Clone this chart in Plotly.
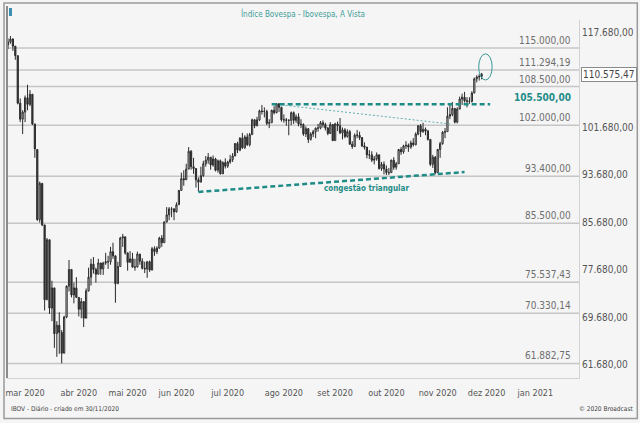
import plotly.graph_objects as go

# ---------------- data (Ibovespa daily, values in thousands of points) ----------------
month_labels = ["mar 2020", "abr 2020", "mai 2020", "jun 2020", "jul 2020", "ago 2020",
                "set 2020", "out 2020", "nov 2020", "dez 2020", "jan 2021"]
month_start_idx = [7, 29, 49, 69, 90, 113, 134, 155, 176, 196, 216]

open_k = [115.5,116.0,116.5,115.3,113.7,105.7,103.0,104.2,106.6,105.5,
          107.2,102.2,97.9,86.1,92.2,85.2,72.6,82.7,71.2,74.6,
          66.9,68.3,67.1,63.6,69.7,74.9,77.7,73.4,74.6,73.0,
          71.0,72.3,69.5,74.1,76.4,78.6,77.7,76.9,78.8,77.8,
          78.8,79.0,79.0,80.7,80.0,75.3,78.2,83.0,83.2,80.5,
          78.9,79.5,78.1,78.1,80.3,79.1,77.9,77.8,79.0,77.6,
          81.2,80.7,81.3,83.0,82.2,85.7,86.9,87.9,87.9,87.4,
          88.6,91.0,93.0,92.8,94.6,97.6,95.0,94.7,92.8,92.4,
          93.5,95.5,96.1,96.6,95.3,96.3,94.4,96.0,93.8,95.7,
          95.1,95.8,96.2,96.8,98.9,97.8,99.8,98.2,100.0,98.7,
          100.4,102.9,101.9,102.9,104.4,104.3,104.3,102.3,102.4,104.5,
          104.1,105.6,105.0,102.9,102.9,102.8,102.8,104.1,102.8,103.4,
          102.2,102.1,100.5,101.4,99.6,100.5,100.9,101.5,101.5,102.4,
          102.1,101.5,100.6,102.1,99.4,102.2,101.9,100.7,101.2,100.1,
          100.9,98.8,98.4,100.3,100.3,99.9,98.5,98.3,97.0,97.0,
          96.1,96.3,97.0,94.7,95.4,94.6,94.0,94.0,96.1,94.9,
          95.5,97.9,97.5,98.5,98.6,98.3,99.0,98.7,100.5,101.9,
          100.9,101.3,101.0,99.6,95.4,96.6,94.0,97.9,98.9,100.8,
          100.9,103.5,103.8,104.8,102.5,104.7,106.4,106.7,106.1,106.0,
          106.0,107.4,109.8,110.1,110.2]

high_k = [116.6,117.0,116.6,115.3,113.7,106.5,104.5,107.0,108.8,107.9,
          107.2,102.2,97.9,92.5,92.2,85.2,83.0,82.7,75.8,74.6,
          69.0,70.5,67.5,69.9,75.0,79.3,77.7,75.5,76.4,73.0,
          72.9,72.3,74.5,78.0,79.5,79.8,78.0,79.5,78.8,79.0,
          80.5,80.0,81.5,82.2,80.0,79.0,83.2,83.7,83.2,80.5,
          80.8,80.5,79.5,80.7,80.3,79.6,79.0,79.1,79.2,81.5,
          81.6,81.6,83.2,83.5,85.8,88.2,88.2,88.2,88.0,89.0,
          91.1,94.0,94.4,95.5,98.3,97.8,96.5,94.7,93.2,95.0,
          96.0,96.8,97.3,96.6,96.9,96.5,96.2,96.2,95.9,96.4,
          96.0,97.0,97.3,99.0,99.2,100.0,100.7,100.3,100.6,100.7,
          103.1,103.0,103.4,104.6,105.4,105.0,104.6,103.0,104.6,105.2,
          105.7,105.7,105.1,103.8,103.2,103.0,104.3,104.3,103.8,104.0,
          103.0,102.3,101.8,101.5,100.8,101.2,101.6,102.2,102.7,102.8,
          102.4,101.7,102.5,102.2,102.4,102.6,103.2,101.6,101.5,101.3,
          101.2,99.3,100.6,101.2,100.9,100.0,99.1,98.3,97.8,97.6,
          96.8,97.4,97.0,95.8,95.9,95.2,94.8,96.2,96.6,95.8,
          98.0,98.3,98.7,99.3,98.9,99.4,99.8,100.8,102.0,102.2,
          102.4,101.6,101.2,99.6,97.0,96.8,98.0,99.2,101.0,101.5,
          105.0,105.5,105.9,104.9,105.0,106.8,107.3,107.6,106.7,106.7,
          107.7,110.0,110.4,110.6,110.8]

low_k = [114.8,115.7,114.5,113.0,105.5,102.5,100.5,102.5,104.5,105.2,
         102.0,96.5,85.9,85.6,85.0,70.8,72.6,70.2,69.0,64.5,
         63.0,63.5,61.9,63.6,69.5,74.0,73.0,72.0,72.9,69.8,
         69.5,68.0,69.5,74.0,75.0,77.0,75.5,76.9,76.8,76.8,
         78.5,77.8,78.5,79.5,72.1,75.3,78.2,81.5,80.2,77.5,
         78.9,78.0,77.5,78.1,78.5,77.7,77.1,76.3,77.3,77.6,
         80.0,80.3,81.2,81.5,82.2,85.6,86.0,86.5,86.0,87.3,
         88.6,91.0,91.8,92.8,94.6,94.5,93.8,91.5,90.8,92.4,
         93.3,95.0,95.5,94.5,95.0,94.2,94.0,93.7,93.8,94.7,
         94.8,95.5,95.8,96.8,97.3,97.6,98.0,98.0,98.5,98.4,
         100.4,101.5,101.8,102.7,103.8,103.3,102.0,101.5,102.4,103.8,
         104.0,104.2,102.6,102.4,101.9,100.3,102.0,102.2,102.4,101.8,
         101.5,100.2,100.0,99.0,99.4,100.0,99.8,100.9,101.3,101.6,
         101.1,100.3,100.5,99.3,99.4,101.0,100.5,99.6,99.8,99.9,
         98.7,98.0,98.4,99.8,99.5,98.3,97.9,96.4,96.3,95.8,
         95.4,96.0,94.5,94.3,93.7,93.6,93.6,94.0,94.5,94.5,
         95.5,97.0,97.2,98.0,97.5,98.0,98.4,98.6,100.3,100.0,
         100.7,100.3,99.4,95.1,94.8,93.7,94.0,96.5,98.7,99.8,
         100.9,103.0,103.5,102.3,102.3,104.7,105.4,105.8,105.0,105.6,
         105.8,107.4,109.2,109.5,109.7]

close_k = [116.0,116.5,115.3,113.7,105.7,103.0,104.2,106.6,105.5,107.2,
           102.2,98.0,86.1,92.2,85.2,72.6,82.7,71.2,74.6,66.9,
           68.3,67.1,63.6,69.7,74.9,77.7,73.4,74.6,73.0,71.0,
           72.3,69.5,74.1,76.4,78.6,77.7,76.9,78.8,77.8,78.8,
           79.0,79.0,80.7,80.0,75.3,78.2,83.0,83.2,80.5,78.9,
           79.5,78.1,78.1,80.3,79.1,77.9,77.8,79.0,77.6,81.2,
           80.7,81.3,83.0,82.2,85.7,86.9,87.9,87.9,87.4,88.6,
           91.0,93.0,92.8,94.6,97.6,95.0,94.7,92.8,92.4,93.5,
           95.5,96.1,96.6,95.3,96.3,94.4,96.0,93.8,95.7,95.1,
           95.8,96.2,96.8,98.9,97.8,99.8,98.2,100.0,98.7,100.4,
           102.9,101.9,102.9,104.4,104.3,104.3,102.3,102.4,104.5,104.1,
           105.6,105.0,102.9,102.9,102.8,102.8,104.1,102.8,103.4,102.2,
           102.1,100.5,101.4,99.6,100.5,100.9,101.5,101.5,102.4,102.1,
           101.5,100.6,102.1,99.4,102.2,101.9,100.7,101.2,100.1,100.9,
           98.8,98.4,100.3,100.3,99.9,98.5,98.3,97.0,97.0,96.1,
           96.3,97.0,94.7,95.4,94.6,94.0,94.0,96.1,94.9,95.5,
           97.9,97.5,98.5,98.6,98.3,99.0,98.7,100.5,101.9,100.9,
           101.3,101.0,99.6,95.4,96.6,94.0,97.9,98.9,100.8,100.9,
           103.5,103.8,104.8,102.5,104.7,106.4,106.7,106.1,106.0,106.0,
           107.4,109.8,110.1,110.2,110.57547]

axis_ticks_shown = [61680, 69680, 77680, 85680, 93680, 101680, 117680]
level_values = [115000.00, 111294.19, 108500.00, 102000.00, 93400.00,
                85500.00, 75537.43, 70330.14, 61882.75]
resistance = 105500.00
last_price = 110575.47

# trend lines (index, value)
lower_trend = ([78, 187], [90750, 94100])
dotted_trend = ([112, 181], [105400, 102200])
resistance_span = [108, 197.5]

# ---------------- helpers ----------------
def br(v):
    s = f"{v:,.2f}"
    return s.replace(",", "X").replace(".", ",").replace("X", ".")

PL, PR, PT, PB = 5, 579, 20, 378   # plot area in pixels
W, H = 640, 423
def px(x):
    return (x - PL) / (PR - PL)
def py(y):
    return (PB - y) / (PB - PT)

FONT = "Liberation Sans Narrow, DejaVu Sans Condensed, Arial Narrow, sans-serif"
TEAL = "#1f8c88"

idx = list(range(len(close_k)))
fig = go.Figure()
fig.add_trace(go.Candlestick(
    x=idx,
    open=[v * 1000 for v in open_k],
    high=[v * 1000 for v in high_k],
    low=[v * 1000 for v in low_k],
    close=[v * 1000 for v in close_k],
    increasing=dict(line=dict(color="#2a2a2a", width=1), fillcolor="#f4f4f4"),
    decreasing=dict(line=dict(color="#2a2a2a", width=1), fillcolor="#3a3a3a"),
    whiskerwidth=0,
    showlegend=False,
    hoverinfo="skip",
))

fig.add_trace(go.Scatter(x=lower_trend[0], y=lower_trend[1], mode="lines",
                         line=dict(color=TEAL, width=2.5, dash="5px,3px"),
                         showlegend=False, hoverinfo="skip"))
fig.add_trace(go.Scatter(x=dotted_trend[0], y=dotted_trend[1], mode="lines",
                         line=dict(color="#5fb0ac", width=1, dash="2px,2px"),
                         showlegend=False, hoverinfo="skip"))
fig.add_trace(go.Scatter(x=resistance_span, y=[resistance, resistance], mode="lines",
                         line=dict(color=TEAL, width=2.5, dash="5px,3px"),
                         showlegend=False, hoverinfo="skip"))

shapes = []
annotations = []
for lv in level_values:
    shapes.append(dict(type="line", xref="paper", x0=0, x1=1, yref="y", y0=lv, y1=lv,
                       line=dict(color="#c6c6c6", width=1.5), layer="below"))
    annotations.append(dict(xref="paper", x=px(573), yref="y", y=lv, xanchor="right",
                            yanchor="bottom", yshift=0, showarrow=False, text=br(lv),
                            font=dict(family=FONT, size=10, color="#6e6e6e")))
annotations.append(dict(xref="paper", x=px(573), yref="y", y=resistance, xanchor="right",
                        yanchor="bottom", yshift=-1, showarrow=False, text="<b>" + br(resistance) + "</b>",
                        font=dict(family=FONT, size=10, color=TEAL)))

shapes.append(dict(type="circle", xref="x", yref="y", x0=192.8, x1=198.3, y0=109600, y1=114000,
                   line=dict(color="#3a9a96", width=1)))

shapes.append(dict(type="line", xref="paper", yref="paper", x0=0, x1=0, y0=0, y1=py(6),
                   line=dict(color="#8c8c8c", width=2)))
shapes.append(dict(type="rect", xref="paper", yref="paper", x0=px(2), x1=px(637.5), y0=py(3), y1=py(418.5),
                   line=dict(color="#9a9a9a", width=1.5)))
shapes.append(dict(type="rect", xref="paper", yref="paper", x0=px(7), x1=px(10), y0=py(16), y1=py(8),
                   line=dict(color="#3a8fb0", width=0), fillcolor="#3a8fb0"))

annotations.append(dict(xref="paper", yref="paper", x=px(302), y=py(13), xanchor="center", yanchor="middle",
                        showarrow=False, text="Índice Bovespa - Ibovespa, A Vista",
                        font=dict(family=FONT, size=8, color="#3d9d99")))
annotations.append(dict(xref="x", yref="y", x=147, y=91300, xanchor="center", yanchor="middle",
                        showarrow=False, text="<b>congestão triangular</b>",
                        font=dict(family=FONT, size=8, color=TEAL)))
annotations.append(dict(xref="paper", yref="y", x=px(581), y=last_price, xanchor="left", yanchor="middle",
                        showarrow=False, text=br(last_price), bgcolor="#ffffff",
                        bordercolor="#8a8a8a", borderwidth=1, borderpad=1,
                        font=dict(family=FONT, size=10, color="#444444")))
annotations.append(dict(xref="paper", yref="paper", x=px(7), y=py(409), xanchor="left", yanchor="middle",
                        showarrow=False, text="IBOV - Diário - criado em 30/11/2020",
                        font=dict(family=FONT, size=6.5, color="#444444")))
annotations.append(dict(xref="paper", yref="paper", x=px(635), y=py(409), xanchor="right", yanchor="middle",
                        showarrow=False, text="© 2020 Broadcast",
                        font=dict(family=FONT, size=6.5, color="#444444")))

x_lo = (PL - 6) / 2.45
x_hi = (PR - 6) / 2.45
def val(ypix):
    return 117680 - (ypix - 32) / 0.00594

fig.update_layout(
    width=W, height=H,
    margin=dict(l=PL, r=W - PR, t=PT, b=H - PB, pad=0),
    paper_bgcolor="#f5f5f5", plot_bgcolor="#f5f5f5",
    shapes=shapes, annotations=annotations,
    font=dict(family=FONT, size=10, color="#555555"),
    xaxis=dict(range=[x_lo, x_hi], tickvals=month_start_idx, ticktext=month_labels,
               showgrid=False, zeroline=False, showline=True, linecolor="#d2d2d2", linewidth=1,
               ticks="", rangeslider=dict(visible=False), ticklabeloverflow="allow",
               ticklabelstandoff=6,
               tickfont=dict(family=FONT, size=9, color="#555555")),
    yaxis=dict(range=[val(PB), val(PT)], side="right", tickvals=axis_ticks_shown,
               ticktext=[br(v) for v in axis_ticks_shown], showgrid=False, zeroline=False,
               showline=True, linecolor="#d2d2d2", linewidth=1, ticks="",
               tickfont=dict(family=FONT, size=10, color="#555555")),
)

fig.write_html("out.html")
